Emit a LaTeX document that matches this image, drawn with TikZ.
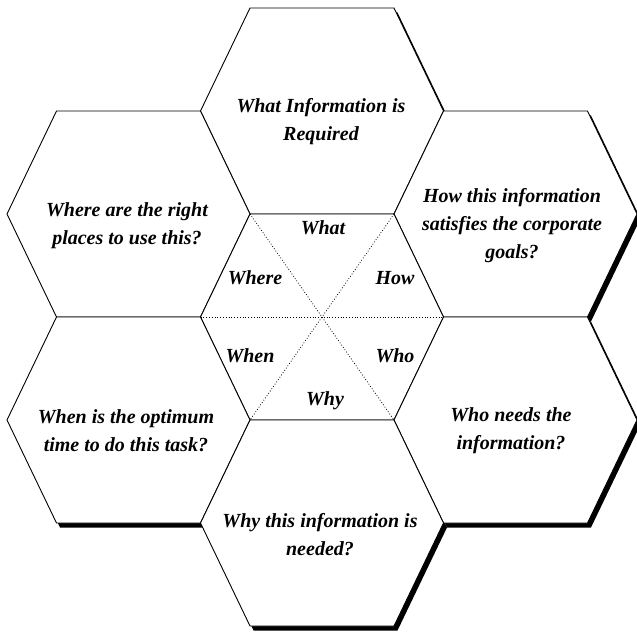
\documentclass[tikz,border=0pt]{standalone}
\usepackage{fontspec}
\setmainfont{Liberation Serif}
\newcommand\myhex[2]{(#1-121.5,#2) -- (#1-72,#2-103) -- (#1+72,#2-103) -- (#1+121.5,#2) -- (#1+72,#2+103) -- (#1-72,#2+103) -- cycle}
\tikzset{
  hexshadow/.style={fill=black, draw=none},
  hexcell/.style={fill=white, draw=black, line width=0.9pt, line join=miter},
  guide/.style={draw=black, line width=0.8pt, dotted},
  qtext/.style={align=center, font=\fontsize{20}{28}\selectfont\bfseries\itshape, inner sep=0pt},
  wtext/.style={font=\fontsize{20}{24}\selectfont\bfseries\itshape, inner sep=0pt}
}
\begin{document}
\begin{tikzpicture}[x=1pt, y=-1pt]
\useasboundingbox (0,0) rectangle (637,636);
% shadows
\foreach \cx/\cy in {322/111, 128.5/214, 515.5/214, 322/317, 128.5/420, 515.5/420, 322/523}{
  \fill[hexshadow] \myhex{\cx+3.5}{\cy+4.5};
}
% cells
\foreach \cx/\cy in {322/111, 128.5/214, 515.5/214, 322/317, 128.5/420, 515.5/420, 322/523}{
  \path[hexcell] \myhex{\cx}{\cy};
}
% centre guides
\coordinate (cL) at (200.5,317);
\coordinate (cR) at (443.5,317);
\coordinate (cTL) at (250,214);
\coordinate (cTR) at (394,214);
\coordinate (cBL) at (250,420);
\coordinate (cBR) at (394,420);
\draw[guide] (cL) -- (cR);
\draw[guide] (cTL) -- (cBR);
\draw[guide] (cTR) -- (cBL);
% question texts
\node[qtext] (qwhat) at (321,122) {What Information is\\Required};
\node[qtext] (qwhere) at (127,226) {Where are the right\\places to use this?};
\node[qtext] (qhow) at (512,226) {How this information\\satisfies the corporate\\goals?};
\node[qtext] (qwhen) at (126,431) {When is the optimum\\time to do this task?};
\node[qtext] (qwho) at (511,431) {Who needs the\\information?};
\node[qtext] (qwhy) at (320,535) {Why this information is\\needed?};
% centre words
\node[wtext] (wwhat) at (323,228) {What};
\node[wtext] (wwhere) at (255,278) {Where};
\node[wtext] (whow) at (395,278) {How};
\node[wtext] (wwhen) at (250,356) {When};
\node[wtext] (wwho) at (395,356) {Who};
\node[wtext] (wwhy) at (325,401) {Why};
\end{tikzpicture}
\end{document}
